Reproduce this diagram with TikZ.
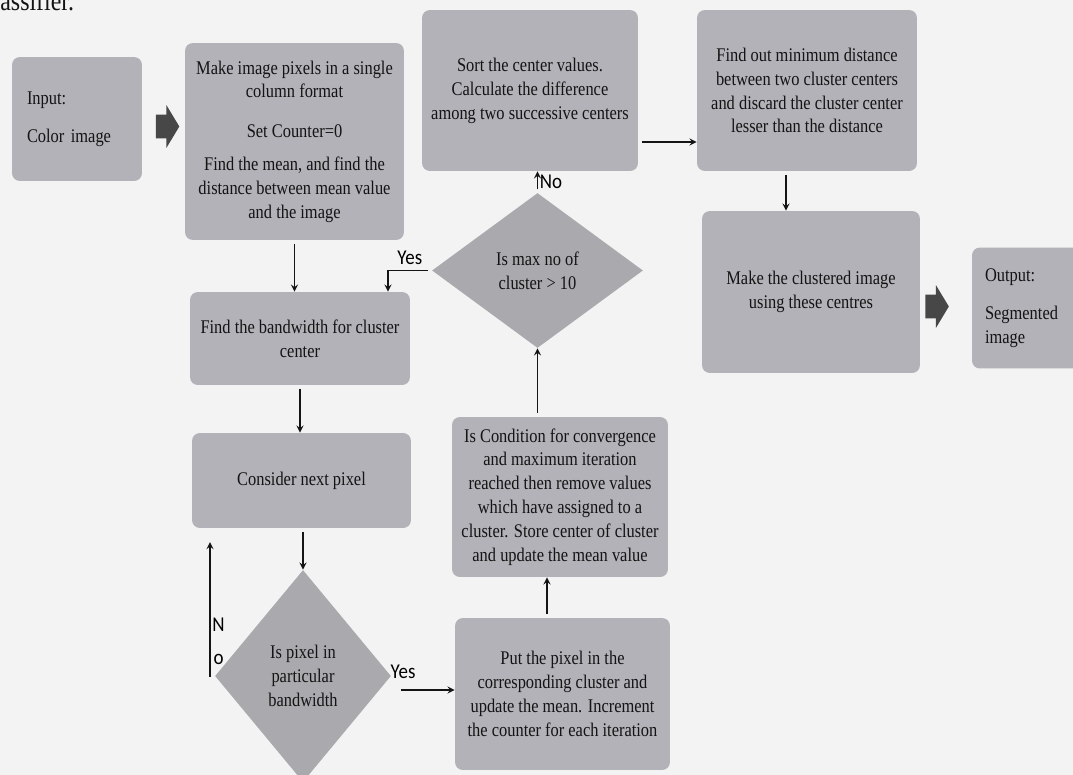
\documentclass[tikz,border=0pt]{standalone}
\usepackage{fontspec}
\setmainfont{Liberation Serif}[FakeStretch=0.85]
\newfontfamily\lblfont{Carlito}[FakeStretch=0.9]
\usetikzlibrary{shapes.geometric,shapes.arrows}
\definecolor{boxgray}{RGB}{178,178,184}
\definecolor{diagray}{RGB}{170,170,174}
\definecolor{pagegray}{RGB}{243,243,243}
\definecolor{inkgray}{RGB}{20,20,20}

\begin{document}
\begin{tikzpicture}[x=0.02cm, y=-0.02cm,
    box/.style={fill=boxgray, rounded corners=4.5pt, align=center, text=inkgray,
      font=\fontsize{11}{13.6}\selectfont, inner sep=2pt},
    decision/.style={diamond, fill=diagray, align=center, text=inkgray,
      font=\fontsize{11}{13.6}\selectfont, inner sep=0pt},
    bigarrow/.style={single arrow, fill=black!72, inner xsep=0pt, inner ysep=0.23cm,
      minimum height=0.47cm, minimum width=0.84cm, single arrow head extend=0.19cm,
      single arrow tip angle=118},
    arr/.style={->, >=stealth, line width=0.8pt, inkgray, shorten <=2pt},
    lbl/.style={font=\lblfont\fontsize{12}{14}\selectfont, text=black, inner sep=1pt}]
    % Page
    \path[use as bounding box, fill=pagegray] (0,0) rectangle (1073,775);
    \node[anchor=base west, font=\fontsize{16}{18}\selectfont, text=inkgray, inner sep=0pt] (cap) at (0,10) {assifier.};

    % First row
    \node[box, text width=2cm, align=left, minimum width=2.6cm, minimum height=2.48cm] (inp) at (77,119) {Input:\\[8pt]Color image};
    \node[bigarrow] (a1) at (164,126.5) {};
    \node[box, minimum width=4.38cm, minimum height=3.94cm] (mk) at (294.5,141.5) {Make image pixels in a single\\column format\\[9pt]Set Counter=0\\[5pt]Find the mean, and find the\\distance between mean value\\and the image};
    \node[box, minimum width=4.32cm, minimum height=3.22cm] (srt) at (530,90.5) {Sort the center values.\\Calculate the difference\\among two successive centers};
    \node[box, minimum width=4.4cm, minimum height=3.22cm] (fnd) at (807,90.5) {Find out minimum distance\\between two cluster centers\\and discard the cluster center\\lesser than the distance};

    % Right side
    \node[box, minimum width=4.36cm, minimum height=3.24cm] (mkc) at (811,292) {Make the clustered image\\using these centres};
    \node[bigarrow] (a2) at (933.5,306.5) {};
    \node[box, text width=1.74cm, align=left, minimum width=2.26cm, minimum height=2.42cm] (outp) at (1028.5,308) {Output:\\[8pt]Segmented\\image};

    % Loop
    \node[box, minimum width=4.4cm, minimum height=1.86cm] (bw) at (300,338.5) {Find the bandwidth for cluster\\center};
    \node[box, minimum width=4.38cm, minimum height=1.9cm] (cns) at (301.5,480.5) {Consider next pixel};
    \node[decision, minimum width=3.52cm, minimum height=4.24cm] (dpx) at (303,676) {Is pixel in\\particular\\bandwidth};
    \node[decision, minimum width=4.22cm, minimum height=3.1cm] (dmx) at (537.5,270.5) {Is max no of\\cluster > 10};
    \node[box, minimum width=4.32cm, minimum height=3.2cm] (cnv) at (560,497) {Is Condition for convergence\\and maximum iteration\\reached then remove values\\which have assigned to a\\cluster. Store center of cluster\\and update the mean value};
    \node[box, minimum width=4.3cm, minimum height=3.04cm] (put) at (562.5,694) {Put the pixel in the\\corresponding cluster and\\update the mean. Increment\\the counter for each iteration};

    % Arrows
    \draw[arr] ([yshift=-1.03cm]srt.east) -- ([yshift=-1.03cm]fnd.west);
    \draw[arr] ([xshift=-0.42cm]fnd.south) -- ([xshift=-0.42cm]fnd.south |- mkc.north);
    \draw[arr] (mk.south) -- (mk.south |- bw.north);
    \draw[arr] (bw.south) -- (bw.south |- cns.north);
    \draw[arr] (cns.south -| dpx.north) -- (dpx.north);
    \coordinate (back) at (210,542);
    \draw[arr] (dpx.west) -| node[lbl, pos=0.63, right, align=center] {N\\[5pt]o} (back);
    \draw[arr] ([xshift=0.12cm,yshift=-0.28cm]dpx.east) -- node[lbl, above=5pt, pos=0.1] {Yes} ([yshift=-0.28cm]dpx.east -| put.west);
    \draw[arr] ([xshift=-0.31cm]put.north) -- ([xshift=-0.31cm]put.north |- cnv.south);
    \draw[arr] (cnv.north -| dmx.south) -- (dmx.south);
    \draw[arr] (dmx.north) -- node[lbl, right] {No} (dmx.north |- srt.south);
    \draw[arr] (dmx.west) -| node[lbl, above=2pt, pos=0.25] {Yes} ([xshift=1.76cm]bw.north);
\end{tikzpicture}
\end{document}
